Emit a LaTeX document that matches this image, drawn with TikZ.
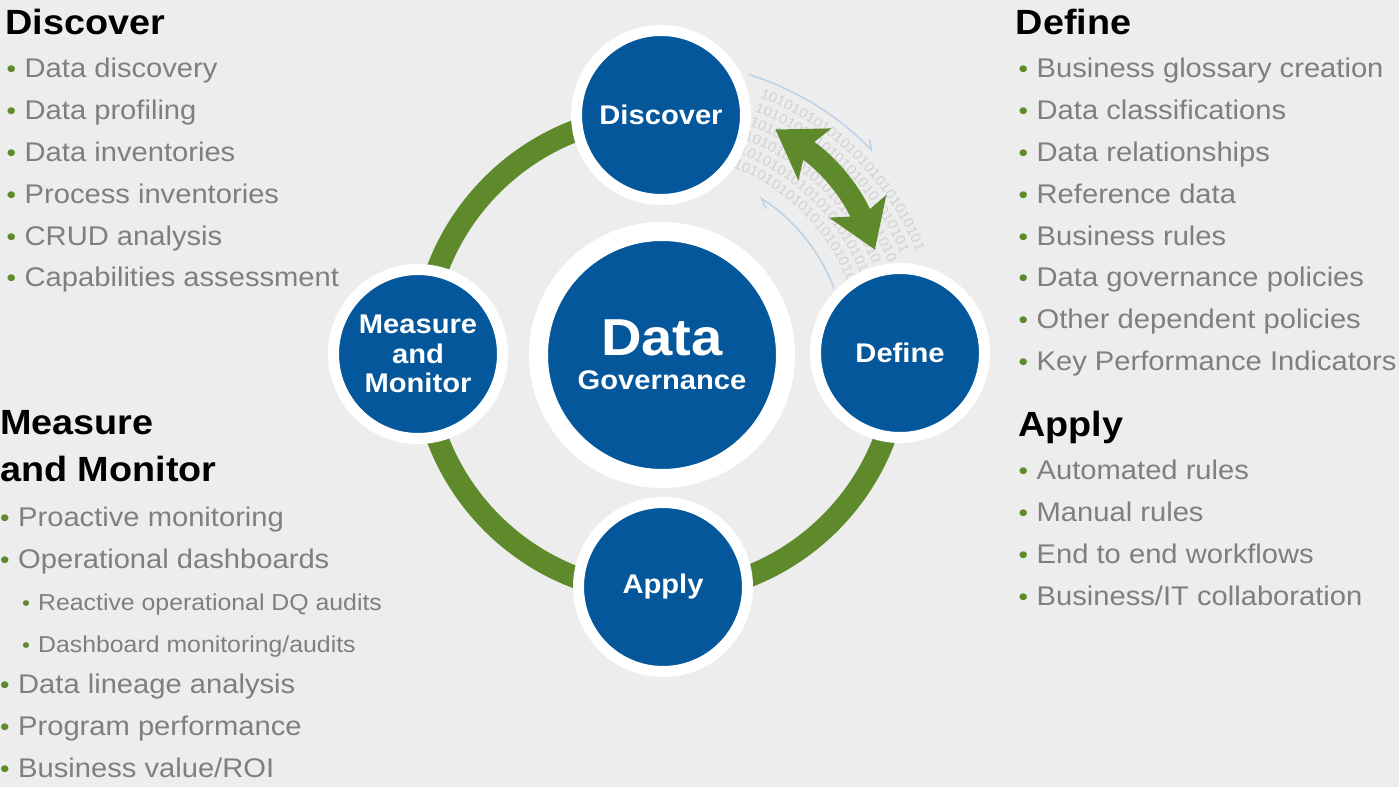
\documentclass[tikz,border=0pt]{standalone}
\usepackage{fontspec}
\setmainfont{Liberation Sans}[FakeStretch=1.08]
\usepackage{tikz}
\usetikzlibrary{arrows.meta,positioning,calc,decorations.text}

\definecolor{dgblue}{HTML}{03579A}
\definecolor{dggreen}{HTML}{5F8A2C}
\definecolor{dggray}{HTML}{7F7F7F}
\definecolor{dgback}{HTML}{EDEDED}
\definecolor{dgbits}{HTML}{D2D2D2}
\definecolor{dgflow}{HTML}{BCD2E6}

\newcommand{\gbul}{\textcolor{dggreen}{\fontsize{25}{25}\selectfont\textbullet}\hspace{8.5pt}}
\newcommand{\sbul}{\textcolor{dggreen}{\fontsize{21}{21}\selectfont\textbullet}\hspace{8pt}}

\begin{document}
\begin{tikzpicture}[
      x=1pt, y=1pt,
      head/.style={anchor=base west, inner sep=0pt, font=\bfseries\fontsize{35}{47}\selectfont},
      li/.style={anchor=base west, inner sep=0pt, text=dggray, font=\fontsize{27}{30}\selectfont},
      subli/.style={li, font=\fontsize{23}{26}\selectfont},
      stage/.style={circle, fill=dgblue, draw=white, line width=11pt, minimum size=169pt, inner sep=0pt, outer sep=0pt,
        text=white, align=center, font=\bfseries\fontsize{27}{29.5}\selectfont},
      core/.style={stage, line width=19pt, minimum size=247pt, font=\bfseries\fontsize{27}{34}\selectfont},
      ring/.style={draw=dggreen, line width=22pt},
      flow/.style={draw=dgflow, line width=1.5pt, -{Straight Barb[harpoon, length=9pt, width=12pt]}},
      dbl/.style={draw=dggreen, line width=21pt,
        {Stealth[length=46pt, width=60pt, inset=10pt]}-{Stealth[length=46pt, width=60pt, inset=10pt]}},
      bits/.style={decorate, decoration={text along path,
        text={|\fontsize{14}{14}\selectfont\color{dgbits}|1010101010101010101010101010101010}}}
    ]
    \fill[dgback] (0,0) rectangle (1399,787);
    \useasboundingbox (0,0) rectangle (1399,787);
    \coordinate (rc) at (661,433);

    \draw[ring] ($(rc)+(90:239)$) arc[start angle=90, end angle=360, radius=239];
    \foreach \r in {200,215,...,275}
      \path[bits] ($(rc)+(69:\r)$) arc[start angle=69, end angle=22, radius=\r];

    \coordinate (o1) at ($(rc)+(72.6:293)$);
    \coordinate (i1) at ($(rc)+(20.7:185)$);
    \draw[flow] (o1) arc[start angle=72.6, end angle=43.6, radius=293];
    \draw[flow] (i1) arc[start angle=20.7, end angle=57.8, radius=185];

    \node[core] (gov) at (662,432) {{\fontsize{52}{52}\selectfont Data}\\Governance};
    \node[stage] (disc) at (661,672) {Discover};
    \node[stage] (def) at (900,434) {Define};
    \node[stage] (apply) at (663,200) {Apply};
    \node[stage] (meas) at (418,433) {Measure\\and\\Monitor};

    \coordinate (dtip) at ($(rc)+(63:252)$);
    \coordinate (ftip) at ($(rc)+(26:238)$);
    \draw[dbl] (dtip) to[bend left=18] (ftip);

    \node[head] (dhead) at (5.5,752) {Discover};
    \foreach \t [count=\i] in {Data discovery, Data profiling, Data inventories, Process inventories,
        CRUD analysis, Capabilities assessment}
      \node[li] (dl\i) at (6.5,{709-41.8*(\i-1)}) {\gbul\t};

    \node[head] (fhead) at (1015.5,752) {Define};
    \foreach \t [count=\i] in {Business glossary creation, Data classifications, Data relationships,
        Reference data, Business rules, Data governance policies, Other dependent policies,
        Key Performance Indicators}
      \node[li] (fl\i) at (1018.5,{709-41.8*(\i-1)}) {\gbul\t};

    \node[head] (ahead) at (1018,350) {Apply};
    \foreach \t [count=\i] in {Automated rules, Manual rules, End to end workflows, Business/IT collaboration}
      \node[li] (al\i) at (1018.5,{307-41.7*(\i-1)}) {\gbul\t};

    \node[head, anchor=north west, align=left] (mhead) at (0,377) {Measure\\and Monitor};
    \foreach \k/\t in {0/Proactive monitoring, 1/Operational dashboards, 4/Data lineage analysis,
        5/Program performance, 6/{Business value/ROI}}
      \node[li] (ml\k) at (0,{260-41.7*\k}) {\gbul\t};
    \node[subli] (ml2) at (22,{260-41.7*2}) {\sbul Reactive operational DQ audits};
    \node[subli] (ml3) at (22,{260-41.7*3}) {\sbul Dashboard monitoring/audits};
  \end{tikzpicture}
\end{document}
